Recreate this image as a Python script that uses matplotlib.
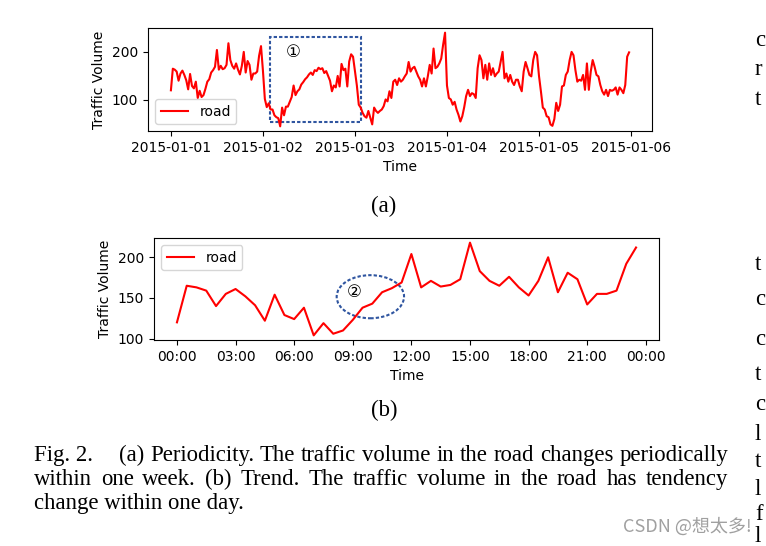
import datetime as dt

import matplotlib

matplotlib.use("Agg")
import matplotlib.pyplot as plt
import matplotlib.dates as mdates
from matplotlib.patches import Rectangle, Ellipse
import pandas as pd

# half-hourly traffic volume, 2015-01-01 .. 2015-01-05
day1 = [120, 165, 163, 159, 140, 155, 161, 152, 141, 122, 154, 129,
        124, 138, 104, 119, 106, 110, 123, 138, 143, 157, 162, 169,
        204, 163, 171, 164, 166, 173, 218, 183, 171, 165, 176, 163,
        153, 171, 200, 157, 181, 173, 142, 155, 155, 159, 192, 212]
day2 = [161, 102, 85, 93, 80, 80, 68, 64, 62, 45, 84, 68,
        86, 86, 96, 106, 130, 110, 118, 122, 132, 137, 143, 147,
        153, 157, 152, 162, 160, 167, 164, 166, 156, 160, 150, 140,
        118, 130, 126, 150, 128, 175, 162, 165, 128, 180, 195, 190]
day3 = [160, 130, 90, 84, 73, 66, 63, 77, 63, 49, 84, 77,
        73, 77, 80, 87, 101, 97, 118, 104, 138, 142, 131, 145,
        138, 142, 149, 155, 179, 159, 166, 169, 159, 149, 142, 128,
        145, 128, 149, 173, 155, 207, 166, 169, 176, 186, 215, 240]
day4 = [130, 104, 101, 90, 96, 80, 69, 55, 66, 85, 108, 121,
        108, 114, 112, 104, 166, 193, 183, 145, 173, 142, 176, 152,
        166, 149, 155, 159, 179, 200, 145, 155, 138, 152, 138, 131,
        142, 142, 128, 118, 159, 179, 166, 152, 149, 183, 200, 193]
day5 = [150, 118, 84, 80, 66, 64, 49, 46, 60, 94, 77, 90,
        128, 130, 152, 159, 183, 200, 193, 162, 138, 142, 140, 152,
        121, 176, 121, 159, 183, 169, 152, 149, 131, 118, 111, 121,
        108, 121, 119, 121, 126, 111, 126, 121, 114, 131, 190, 199]

week_values = day1 + day2 + day3 + day4 + day5
week_times = pd.date_range("2015-01-01", periods=len(week_values), freq="30min")
day_times = week_times[:len(day1)]

caption1 = "(a) Periodicity. The traffic volume in the road changes periodically"
caption2 = "within one week. (b) Trend. The traffic volume in the road has tendency"
caption3 = "change within one day."

plt.rcParams["font.size"] = 10
box_color = "#2f55a0"
serif = "Liberation Serif"

W, H = 766, 546
fig = plt.figure(figsize=(W / 100, H / 100), dpi=100)


def px_axes(x0, y0, x1, y1):
    return fig.add_axes([x0 / W, 1 - y1 / H, (x1 - x0) / W, (y1 - y0) / H])


# (a) one week
ax1 = px_axes(148, 28, 652, 131)
ax1.plot(week_times, week_values, color="red", lw=1.5, label="road")
ax1.xaxis.set_major_locator(mdates.DayLocator())
ax1.xaxis.set_major_formatter(mdates.DateFormatter("%Y-%m-%d"))
ax1.set_yticks([100, 200])
ax1.set_xlabel("Time", labelpad=4)
ax1.set_ylabel("Traffic Volume")
ax1.legend(loc="lower left")
x_box = mdates.date2num(dt.datetime(2015, 1, 2, 1, 54))
ax1.add_patch(Rectangle((x_box, 55), 0.99, 175, fill=False, ec=box_color,
                        lw=1.5, ls=(0, (1.6, 1.0))))
ax1.text(mdates.date2num(dt.datetime(2015, 1, 2, 8, 0)), 199, "\u2460",
         fontsize=12, ha="center", va="center",
         family=["DejaVu Sans", "Noto Sans CJK SC"])

# (b) one day
ax2 = px_axes(154, 238, 659, 340)
ax2.plot(day_times, day1, color="red", lw=1.5, label="road")
ax2.xaxis.set_major_locator(mdates.HourLocator(byhour=range(0, 24, 3)))
ax2.xaxis.set_major_formatter(mdates.DateFormatter("%H:%M"))
ax2.set_yticks([100, 150, 200])
ax2.set_xlabel("Time", labelpad=4)
ax2.set_ylabel("Traffic Volume")
ax2.legend(loc="upper left")
ax2.add_patch(Ellipse((mdates.date2num(dt.datetime(2015, 1, 1, 9, 54)), 151.5),
                      3.45 / 24, 53, fill=False, ec=box_color, lw=1.5,
                      ls=(0, (1.6, 1.0))))
ax2.text(mdates.date2num(dt.datetime(2015, 1, 1, 9, 3)), 157, "\u2461",
         fontsize=12, ha="center", va="center",
         family=["DejaVu Sans", "Noto Sans CJK SC"])

# sub captions
cap_size = 16.4
fig.text(384 / W, 1 - 206 / H, "(a)", family=serif, fontsize=cap_size,
         ha="center", va="center")
fig.text(384 / W, 1 - 410 / H, "(b)", family=serif, fontsize=cap_size,
         ha="center", va="center")


def justify(text, x0, x1, y):
    words = text.split()
    items = [fig.text(0, 1 - y / H, w, family=serif, fontsize=cap_size,
                      va="baseline") for w in words]
    r = fig.canvas.get_renderer()
    widths = [t.get_window_extent(r).width for t in items]
    gap = (x1 - x0 - sum(widths)) / (len(words) - 1)
    x = x0
    for t, w in zip(items, widths):
        t.set_x(x / W)
        x += w + gap


fig.text(34 / W, 1 - 461 / H, "Fig. 2.", family=serif, fontsize=cap_size,
         va="baseline")
justify(caption1, 119, 728, 461)
justify(caption2, 34, 728, 485)
fig.text(34 / W, 1 - 509 / H, caption3, family=serif, fontsize=cap_size,
         va="baseline")

# watermark
fig.text(752 / W, 1 - 527 / H, "CSDN @想太多!", color="#a0a0a0", fontsize=13,
         ha="right", va="center", family=["Noto Sans CJK SC", "DejaVu Sans"])

# letters of the next column at the page edge
for ch, y in [("c", 46), ("r", 75), ("t", 105), ("t", 270), ("c", 305),
              ("c", 345), ("t", 380), ("c", 410), ("l", 440), ("t", 467),
              ("l", 495), ("f", 520), ("l", 542)]:
    fig.text(755 / W, 1 - y / H, ch, family=serif, fontsize=cap_size,
             va="baseline")

fig.savefig("out.png", dpi=100)
